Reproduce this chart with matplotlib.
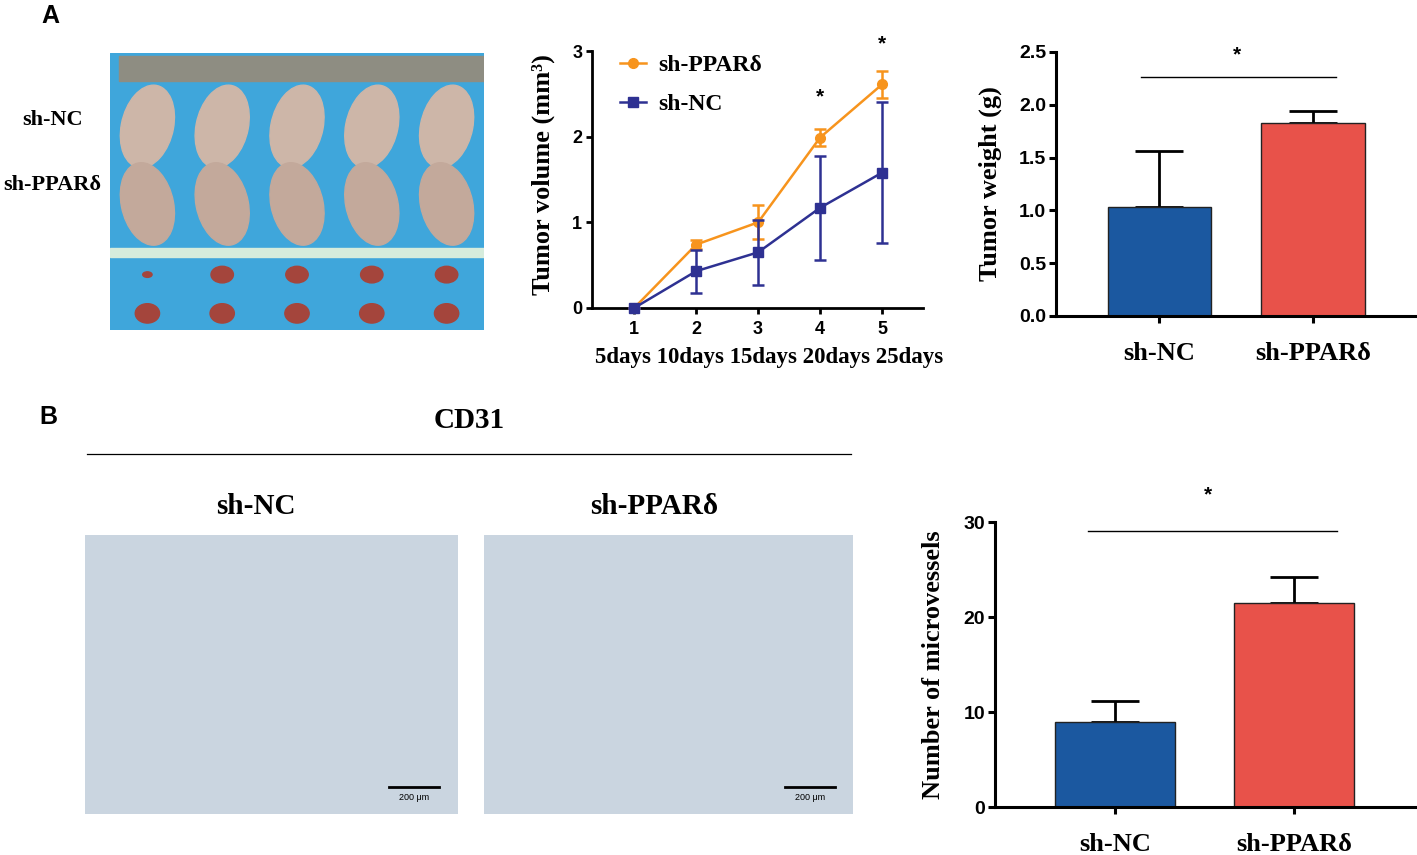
import matplotlib
matplotlib.use("Agg")
import matplotlib.pyplot as plt
from matplotlib.patches import Rectangle, Ellipse
from matplotlib.lines import Line2D

# ---------------- data ----------------
time_points = [1, 2, 3, 4, 5]
day_labels = "5days 10days 15days 20days 25days"
ppar_volume = [0.0, 0.74, 1.00, 1.99, 2.61]
ppar_volume_err = [0.0, 0.05, 0.20, 0.10, 0.16]
nc_volume = [0.0, 0.43, 0.65, 1.17, 1.58]
nc_volume_err = [0.0, 0.25, 0.38, 0.61, 0.82]
volume_sig_points = [4, 5]
volume_sig_y = [2.46, 3.08]

groups = ["sh-NC", "sh-PPARδ"]
weight_mean = [1.03, 1.83]
weight_err = [0.53, 0.11]
vessel_mean = [9.0, 21.5]
vessel_err = [2.2, 2.7]

# ---------------- style ----------------
SERIF = ["Liberation Serif", "DejaVu Serif"]
SANS = ["Liberation Sans", "DejaVu Sans"]
ORANGE = "#F7941D"
NAVY = "#2E3192"
BAR_BLUE = "#1B58A0"
BAR_RED = "#E8524A"

W, H = 1417, 855
fig = plt.figure(figsize=(W / 100, H / 100), dpi=100)


def rect(x0, y0, x1, y1):
    return [x0 / W, 1 - y1 / H, (x1 - x0) / W, (y1 - y0) / H]


def fig_text(x, y, s, **kw):
    fig.text(x / W, 1 - y / H, s, **kw)


# panel letters
fig_text(50, 16, "A", fontsize=18, fontweight="bold", family=SANS, ha="center", va="center")
fig_text(48, 417, "B", fontsize=18, fontweight="bold", family=SANS, ha="center", va="center")

# ---------------- photo placeholder (mice) ----------------
axp = fig.add_axes(rect(110, 53, 484, 330))
axp.set_xlim(0, 1)
axp.set_ylim(0, 1)
axp.axis("off")
axp.add_patch(Rectangle((0, 0), 1, 1, color="#3FA6DB"))
axp.add_patch(Rectangle((0.025, 0.9), 0.975, 0.09, color="#8E8D82"))
axp.add_patch(Rectangle((0, 0.265), 1, 0.03, color="#D6ECDC"))
for i in range(5):
    cx = 0.1 + i * 0.2
    axp.add_patch(Ellipse((cx, 0.735), 0.14, 0.3, angle=-8, color="#CDB6A8"))
    axp.add_patch(Ellipse((cx, 0.455), 0.14, 0.3, angle=8, color="#C3A99B"))
    axp.add_patch(Ellipse((cx, 0.2), 0.06 if i else 0.025, 0.06 if i else 0.02, color="#A4453C"))
    axp.add_patch(Ellipse((cx, 0.06), 0.065, 0.07, color="#A4453C"))
fig_text(53, 120, "sh-NC", fontsize=16, fontweight="bold", family=SERIF, ha="center", va="center")
fig_text(52, 185, "sh-PPARδ", fontsize=16, fontweight="bold", family=SERIF, ha="center", va="center")

# ---------------- tumor volume line chart ----------------
ax1 = fig.add_axes(rect(592, 51, 923, 308))
ax1.errorbar(time_points, ppar_volume, yerr=ppar_volume_err, color=ORANGE, lw=1.8,
             marker="o", ms=7, capsize=4.5, capthick=1.8, elinewidth=1.8,
             label="sh-PPARδ", clip_on=False, zorder=3)
ax1.errorbar(time_points, nc_volume, yerr=nc_volume_err, color=NAVY, lw=1.8,
             marker="s", ms=7, capsize=4.5, capthick=1.8, elinewidth=1.8,
             label="sh-NC", clip_on=False, zorder=4)
ax1.set_xlim(0.32, 5.66)
ax1.set_ylim(0, 3)
ax1.set_xticks(time_points)
ax1.set_yticks([0, 1, 2, 3])
for sp in ["top", "right"]:
    ax1.spines[sp].set_visible(False)
for sp in ["left", "bottom"]:
    ax1.spines[sp].set_linewidth(2)
ax1.tick_params(axis="both", width=2, length=4, labelsize=13, pad=3)
ax1.tick_params(axis="x", pad=5)
for lab in ax1.get_xticklabels() + ax1.get_yticklabels():
    lab.set_fontweight("bold")
    lab.set_family(SANS)
for xs, ys in zip(volume_sig_points, volume_sig_y):
    ax1.text(xs, ys, "*", fontsize=15, fontweight="bold", family=SANS, ha="center",
             va="center", clip_on=False)
ax1.set_xlabel(day_labels, fontsize=16.5, fontweight="bold", family=SERIF)
ax1.xaxis.set_label_coords(0.535, -0.15)
ax1.set_ylabel("Tumor volume (mm³)", fontsize=19, fontweight="bold", family=SERIF)
ax1.yaxis.set_label_coords(-0.148, 0.52)
ax1.yaxis.label.set_verticalalignment("center")
handles = [Line2D([], [], color=ORANGE, lw=1.8, marker="o", ms=7),
           Line2D([], [], color=NAVY, lw=1.8, marker="s", ms=7)]
ax1.legend(handles, ["sh-PPARδ", "sh-NC"], loc="upper left", bbox_to_anchor=(0.085, 0.985),
           frameon=False, borderpad=0, borderaxespad=0, handlelength=1.1, handletextpad=0.5,
           labelspacing=0.72, prop={"family": SERIF, "weight": "bold", "size": 17})


def bar_panel(ax, means, errs, ylim, yticks, ticklabels_fmt, ylabel, sig_y, sig_x, star_xy,
              label_x):
    x = [0, 1]
    ax.bar(x, means, width=0.67, color=[BAR_BLUE, BAR_RED], edgecolor="#222222", lw=1,
           zorder=2)
    ax.errorbar(x, means, yerr=[[0, 0], errs], fmt="none", ecolor="black", elinewidth=2,
                capsize=17, capthick=2, zorder=1)
    ax.set_xlim(-0.67, 1.676)
    ax.set_ylim(*ylim)
    ax.set_xticks(x)
    ax.set_xticklabels(groups)
    ax.set_yticks(yticks)
    ax.set_yticklabels([ticklabels_fmt.format(v) for v in yticks])
    for sp in ["top", "right"]:
        ax.spines[sp].set_visible(False)
    for sp in ["left", "bottom"]:
        ax.spines[sp].set_linewidth(2.2)
    ax.tick_params(axis="both", width=2.2, length=5, labelsize=14, pad=2)
    ax.tick_params(axis="x", pad=14)
    for lab in ax.get_yticklabels():
        lab.set_fontweight("bold")
        lab.set_family(SANS)
    for lab in ax.get_xticklabels():
        lab.set_fontweight("bold")
        lab.set_family(SERIF)
        lab.set_fontsize(19)
    ax.plot(sig_x, [sig_y, sig_y], color="black", lw=1, clip_on=False)
    ax.text(star_xy[0], star_xy[1], "*", fontsize=15, fontweight="bold", family=SANS,
            ha="center", va="center", clip_on=False)
    ax.set_ylabel(ylabel, fontsize=19, fontweight="bold", family=SERIF)
    ax.yaxis.set_label_coords(label_x, 0.5)
    ax.yaxis.label.set_verticalalignment("center")


# ---------------- tumor weight ----------------
ax2 = fig.add_axes(rect(1056, 52, 1417, 316))
bar_panel(ax2, weight_mean, weight_err, (0, 2.5), [0.0, 0.5, 1.0, 1.5, 2.0, 2.5], "{:.1f}",
          "Tumor weight (g)", 2.26, [-0.117, 1.149], (0.506, 2.47), -66 / 361)

# ---------------- CD31 header ----------------
fig_text(469, 420, "CD31", fontsize=21, fontweight="bold", family=SERIF, ha="center", va="center")
fig.add_artist(Line2D([87 / W, 851 / W], [1 - 454 / H, 1 - 454 / H], color="black", lw=0.9))
fig_text(256, 506, "sh-NC", fontsize=21, fontweight="bold", family=SERIF, ha="center", va="center")
fig_text(654, 506, "sh-PPARδ", fontsize=21, fontweight="bold", family=SERIF, ha="center",
         va="center")

# ---------------- histology placeholders ----------------
for (x0, x1) in [(85, 458), (484, 853)]:
    axh = fig.add_axes(rect(x0, 535, x1, 814))
    axh.set_xlim(0, 1)
    axh.set_ylim(0, 1)
    axh.axis("off")
    axh.add_patch(Rectangle((0, 0), 1, 1, color="#CAD5E0"))
    axh.plot([0.815, 0.95], [0.095, 0.095], color="black", lw=2)
    axh.text(0.8825, 0.06, "200 μm", fontsize=6.5, ha="center", va="center", family=SANS)

# ---------------- microvessels ----------------
ax3 = fig.add_axes(rect(995, 522, 1415, 807))
bar_panel(ax3, vessel_mean, vessel_err, (0, 30), [0, 10, 20, 30], "{:d}",
          "Number of microvessels", 29.1, [-0.15, 1.24], (0.52, 32.9), -62 / 420)

fig.savefig("out.png", dpi=100)
